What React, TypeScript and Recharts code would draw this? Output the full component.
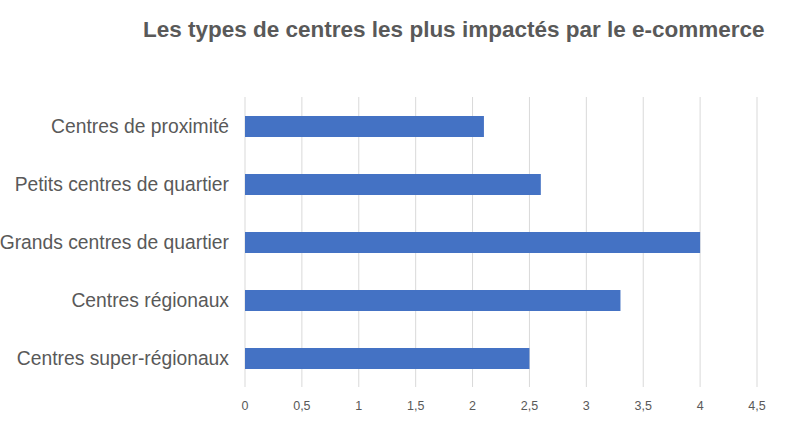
import { BarChart, Bar, XAxis, YAxis, CartesianGrid } from 'recharts'

const categories = [
  'Centres de proximité',
  'Petits centres de quartier',
  'Grands centres de quartier',
  'Centres régionaux',
  'Centres super-régionaux',
]
const scores = [2.1, 2.6, 4.0, 3.3, 2.5]
const xTicks = [0, 0.5, 1, 1.5, 2, 2.5, 3, 3.5, 4, 4.5]
const title = 'Les types de centres les plus impactés par le e-commerce'

const data = categories.map((name, i) => ({ name, value: scores[i] }))

const font = '"Liberation Sans", Arial, Helvetica, sans-serif'

export default function App() {
  return (
    <div style={{ position: 'fixed', left: 0, top: 0, width: 792, height: 443, background: '#fff', fontFamily: font }}>
      <div
        style={{
          position: 'absolute',
          left: 143,
          top: 17,
          width: 620,
          textAlign: 'center',
          fontSize: 22.5,
          fontWeight: 'bold',
          color: '#595959',
          whiteSpace: 'nowrap',
        }}
      >
        {title}
      </div>
      <BarChart
        width={792}
        height={443}
        data={data}
        layout="vertical"
        margin={{ top: 97, right: 35, bottom: 26, left: 0 }}
      >
        <CartesianGrid horizontal={false} stroke="#d9d9d9" strokeWidth={1} />
        <XAxis
          type="number"
          domain={[0, 4.5]}
          ticks={xTicks}
          axisLine={false}
          tickLine={false}
          tickSize={6}
          tickMargin={8}
          height={30}
          interval={0}
          tick={{ fontSize: 12.5, fill: '#595959', fontFamily: font }}
          tickFormatter={(v: number) => String(v).replace('.', ',')}
        />
        <YAxis
          type="category"
          dataKey="name"
          width={245}
          axisLine={false}
          tickLine={false}
          tickSize={14}
          tickMargin={2}
          interval={0}
          tick={{ fontSize: 19.3, fill: '#595959', fontFamily: font }}
        />
        <Bar dataKey="value" fill="#4472C4" barSize={21} isAnimationActive={false} />
      </BarChart>
    </div>
  )
}
